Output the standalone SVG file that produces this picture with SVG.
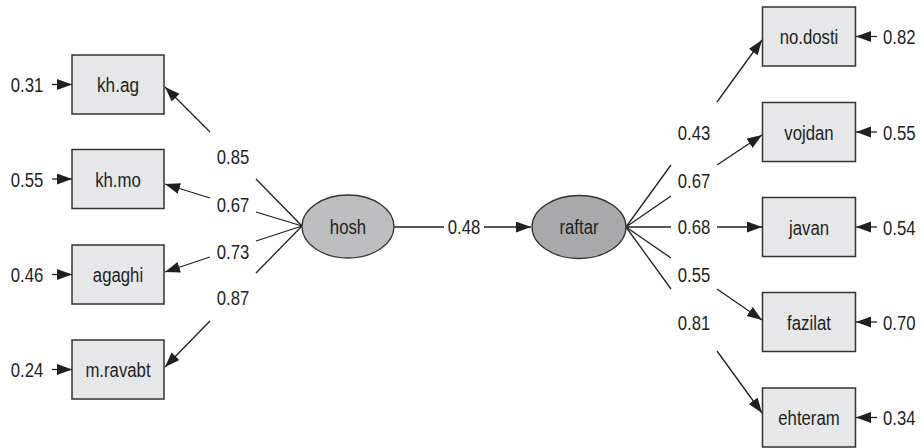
<svg xmlns="http://www.w3.org/2000/svg" width="921" height="448" viewBox="0 0 921 448">
  <style>
    text { font-family: "Liberation Sans", Arial, sans-serif; font-size: 19.5px; fill: #231f20; }
    .mid { text-anchor: middle; }
    .box { fill: #e6e7e8; stroke: #333; stroke-width: 1.5; }
    .lat1 { fill: #bdbec0; stroke: #333; stroke-width: 1.3; }
    .lat2 { fill: #a8a9ab; stroke: #333; stroke-width: 1.3; }
    .edge { stroke: #231f20; stroke-width: 1.3; fill: none; }
  </style>
  <defs>
    <marker id="arrow" markerUnits="userSpaceOnUse" markerWidth="16" markerHeight="12" refX="15" refY="5.5" orient="auto">
      <path d="M0,0 L15,5.5 L0,11 z" fill="#231f20"/>
    </marker>
  </defs>
  <rect width="921" height="448" fill="#ffffff"/>

  <!-- connectors -->
  <g id="connectors">
    <!-- hosh to indicators (split around the loading labels) -->
    <line class="edge" x1="302" y1="226" x2="256" y2="179"/>
    <line class="edge" x1="210" y1="132" x2="165" y2="87" marker-end="url(#arrow)"/>
    <line class="edge" x1="302" y1="226" x2="256" y2="212"/>
    <line class="edge" x1="210" y1="198" x2="165" y2="184" marker-end="url(#arrow)"/>
    <line class="edge" x1="302" y1="226" x2="256" y2="241"/>
    <line class="edge" x1="210" y1="257" x2="165" y2="272" marker-end="url(#arrow)"/>
    <line class="edge" x1="302" y1="226" x2="256" y2="273"/>
    <line class="edge" x1="210" y1="321" x2="165" y2="367" marker-end="url(#arrow)"/>

    <!-- hosh to raftar -->
    <line class="edge" x1="394" y1="227" x2="444" y2="227"/>
    <line class="edge" x1="484" y1="227" x2="531" y2="227" marker-end="url(#arrow)"/>

    <!-- raftar to indicators -->
    <line class="edge" x1="626" y1="227" x2="671" y2="165"/>
    <line class="edge" x1="717" y1="102" x2="762" y2="40" marker-end="url(#arrow)"/>
    <line class="edge" x1="626" y1="227" x2="671" y2="196"/>
    <line class="edge" x1="717" y1="165" x2="762" y2="135" marker-end="url(#arrow)"/>
    <line class="edge" x1="626" y1="227" x2="671" y2="227"/>
    <line class="edge" x1="717" y1="227" x2="762" y2="227" marker-end="url(#arrow)"/>
    <line class="edge" x1="626" y1="227" x2="671" y2="258"/>
    <line class="edge" x1="717" y1="289" x2="762" y2="320" marker-end="url(#arrow)"/>
    <line class="edge" x1="626" y1="227" x2="671" y2="289"/>
    <line class="edge" x1="717" y1="351" x2="762" y2="413" marker-end="url(#arrow)"/>

    <!-- error terms, left -->
    <line class="edge" x1="52" y1="84.5" x2="72" y2="84.5" marker-end="url(#arrow)"/>
    <line class="edge" x1="52" y1="179" x2="72" y2="179" marker-end="url(#arrow)"/>
    <line class="edge" x1="52" y1="274.5" x2="72" y2="274.5" marker-end="url(#arrow)"/>
    <line class="edge" x1="52" y1="369.5" x2="72" y2="369.5" marker-end="url(#arrow)"/>
    <!-- error terms, right -->
    <line class="edge" x1="877" y1="36.5" x2="856" y2="36.5" marker-end="url(#arrow)"/>
    <line class="edge" x1="877" y1="132" x2="856" y2="132" marker-end="url(#arrow)"/>
    <line class="edge" x1="877" y1="227" x2="856" y2="227" marker-end="url(#arrow)"/>
    <line class="edge" x1="877" y1="322" x2="856" y2="322" marker-end="url(#arrow)"/>
    <line class="edge" x1="877" y1="417.5" x2="856" y2="417.5" marker-end="url(#arrow)"/>

    <!-- path coefficients -->
    <text class="mid" x="233" y="164" textLength="32.5" lengthAdjust="spacingAndGlyphs">0.85</text>
    <text class="mid" x="233" y="212" textLength="32.5" lengthAdjust="spacingAndGlyphs">0.67</text>
    <text class="mid" x="233" y="259" textLength="32.5" lengthAdjust="spacingAndGlyphs">0.73</text>
    <text class="mid" x="233" y="305" textLength="32.5" lengthAdjust="spacingAndGlyphs">0.87</text>
    <text class="mid" x="464" y="234" textLength="32.5" lengthAdjust="spacingAndGlyphs">0.48</text>
    <text class="mid" x="694" y="140" textLength="32.5" lengthAdjust="spacingAndGlyphs">0.43</text>
    <text class="mid" x="694" y="188" textLength="32.5" lengthAdjust="spacingAndGlyphs">0.67</text>
    <text class="mid" x="694" y="234" textLength="32.5" lengthAdjust="spacingAndGlyphs">0.68</text>
    <text class="mid" x="694" y="282" textLength="32.5" lengthAdjust="spacingAndGlyphs">0.55</text>
    <text class="mid" x="694" y="330" textLength="32.5" lengthAdjust="spacingAndGlyphs">0.81</text>

    <!-- error variances -->
    <text class="mid" x="27" y="92" textLength="32.5" lengthAdjust="spacingAndGlyphs">0.31</text>
    <text class="mid" x="27" y="186.5" textLength="32.5" lengthAdjust="spacingAndGlyphs">0.55</text>
    <text class="mid" x="27" y="282" textLength="32.5" lengthAdjust="spacingAndGlyphs">0.46</text>
    <text class="mid" x="27" y="377" textLength="32.5" lengthAdjust="spacingAndGlyphs">0.24</text>
    <text x="883" y="44" textLength="32.5" lengthAdjust="spacingAndGlyphs">0.82</text>
    <text x="883" y="139.5" textLength="32.5" lengthAdjust="spacingAndGlyphs">0.55</text>
    <text x="883" y="234.5" textLength="32.5" lengthAdjust="spacingAndGlyphs">0.54</text>
    <text x="883" y="329.5" textLength="32.5" lengthAdjust="spacingAndGlyphs">0.70</text>
    <text x="883" y="425" textLength="32.5" lengthAdjust="spacingAndGlyphs">0.34</text>
  </g>

  <!-- latent variables -->
  <g id="hosh">
    <ellipse class="lat1" cx="348" cy="226.5" rx="46" ry="31.5"/>
    <text class="mid" x="348" y="234" textLength="36.4" lengthAdjust="spacingAndGlyphs">hosh</text>
  </g>
  <g id="raftar">
    <ellipse class="lat2" cx="579" cy="227" rx="47" ry="31.5"/>
    <text class="mid" x="579" y="234" textLength="39.1" lengthAdjust="spacingAndGlyphs">raftar</text>
  </g>

  <!-- hosh indicators -->
  <g id="kh_ag">
    <rect class="box" x="72" y="55" width="92" height="59"/>
    <text class="mid" x="118" y="92" textLength="42" lengthAdjust="spacingAndGlyphs">kh.ag</text>
  </g>
  <g id="kh_mo">
    <rect class="box" x="72" y="149.5" width="92" height="59"/>
    <text class="mid" x="118" y="186.5" textLength="45.7" lengthAdjust="spacingAndGlyphs">kh.mo</text>
  </g>
  <g id="agaghi">
    <rect class="box" x="72" y="245" width="92" height="59"/>
    <text class="mid" x="118" y="282" textLength="50.3" lengthAdjust="spacingAndGlyphs">agaghi</text>
  </g>
  <g id="m_ravabt">
    <rect class="box" x="72" y="340" width="92" height="59"/>
    <text class="mid" x="118" y="377" textLength="65.2" lengthAdjust="spacingAndGlyphs">m.ravabt</text>
  </g>

  <!-- raftar indicators -->
  <g id="no_dosti">
    <rect class="box" x="762.5" y="7" width="93" height="59"/>
    <text class="mid" x="809" y="44" textLength="58.7" lengthAdjust="spacingAndGlyphs">no.dosti</text>
  </g>
  <g id="vojdan">
    <rect class="box" x="762.5" y="102.5" width="93" height="59"/>
    <text class="mid" x="809" y="139.5" textLength="49.4" lengthAdjust="spacingAndGlyphs">vojdan</text>
  </g>
  <g id="javan">
    <rect class="box" x="762.5" y="197.5" width="93" height="59"/>
    <text class="mid" x="809" y="234.5" textLength="40.1" lengthAdjust="spacingAndGlyphs">javan</text>
  </g>
  <g id="fazilat">
    <rect class="box" x="762.5" y="292.5" width="93" height="59"/>
    <text class="mid" x="809" y="329.5" textLength="43.8" lengthAdjust="spacingAndGlyphs">fazilat</text>
  </g>
  <g id="ehteram">
    <rect class="box" x="762.5" y="388" width="93" height="59"/>
    <text class="mid" x="809" y="425" textLength="61.5" lengthAdjust="spacingAndGlyphs">ehteram</text>
  </g>
</svg>
